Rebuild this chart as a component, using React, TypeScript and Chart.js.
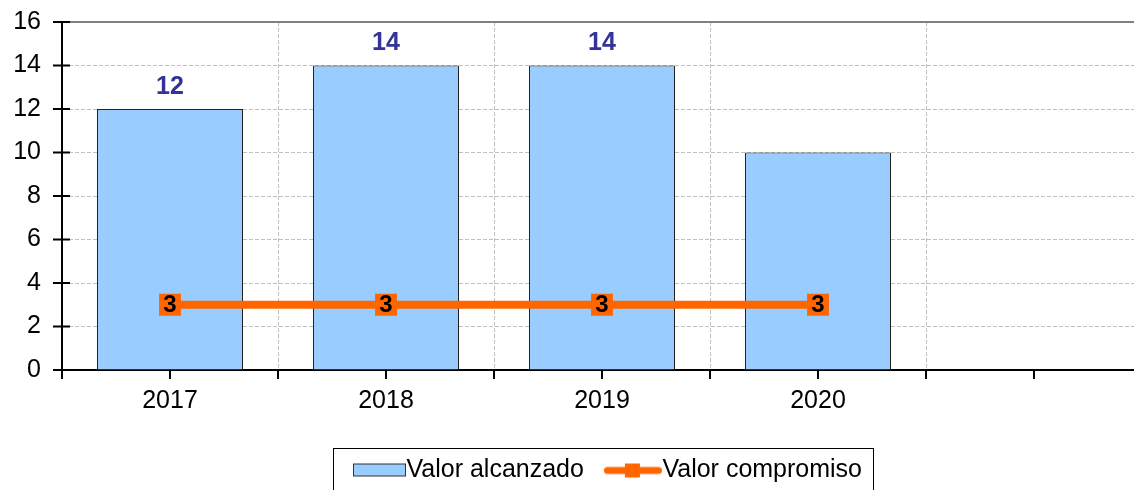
import React, { useEffect, useRef } from 'react';
import { Chart, registerables } from 'chart.js';

Chart.register(...registerables);

// ---- data ----
const categories = ['2017', '2018', '2019', '2020', ''];
const valorAlcanzado: (number | null)[] = [12, 14, 14, 10, null];
const valorCompromiso: (number | null)[] = [3, 3, 3, 3, null];
// value labels shown above the bars in the reference (2020 has none)
const alcanzadoLabels: (number | null)[] = [12, 14, 14, null, null];
const seriesNames = ['Valor alcanzado', 'Valor compromiso'];
const yMin = 0;
const yMax = 16;
const yStep = 2;

// ---- style ----
const FONT = "'Liberation Sans', Arial, sans-serif";
const BLUE = '#99CCFF';
const ORANGE = '#FF6600';
const LABEL_BLUE = '#333399';
const GRID = '#c0c0c0';
const LEGEND_START_X = 342;

function makeBarSwatch(): HTMLCanvasElement {
  const c = document.createElement('canvas');
  c.width = 76;
  c.height = 24;
  const g = c.getContext('2d')!;
  g.fillStyle = BLUE;
  g.fillRect(23.5, 5.5, 52, 12);
  g.strokeStyle = '#333';
  g.lineWidth = 1;
  g.strokeRect(23.5, 5.5, 52, 12);
  return c;
}

function makeLineSwatch(): HTMLCanvasElement {
  const c = document.createElement('canvas');
  c.width = 76;
  c.height = 24;
  const g = c.getContext('2d')!;
  g.strokeStyle = ORANGE;
  g.lineWidth = 7;
  g.lineCap = 'round';
  g.beginPath();
  g.moveTo(21.5, 12);
  g.lineTo(72.5, 12);
  g.stroke();
  g.fillStyle = ORANGE;
  g.fillRect(39, 5, 15, 14);
  return c;
}

const decorPlugin = {
  id: 'decor',
  afterLayout(chart: any) {
    const lg = chart.legend;
    if (!lg || !lg.lineWidths) return;
    const p = lg.options.labels.padding;
    const x1 = (lg.left + p + lg.right - lg.lineWidths[0]) / 2;
    const d = LEGEND_START_X - x1;
    lg.left += d;
    lg.right += d;
  },
  afterDatasetsDraw(chart: any) {
    const ctx = chart.ctx;
    ctx.save();
    ctx.textAlign = 'center';
    ctx.textBaseline = 'middle';
    const barMeta = chart.getDatasetMeta(0);
    ctx.font = `bold 25px ${FONT}`;
    ctx.fillStyle = LABEL_BLUE;
    barMeta.data.forEach((el: any, i: number) => {
      const v = alcanzadoLabels[i];
      if (v == null) return;
      ctx.fillText(String(v), el.x, el.y - 22);
    });
    const lineMeta = chart.getDatasetMeta(1);
    ctx.font = `bold 24px ${FONT}`;
    ctx.fillStyle = '#000';
    lineMeta.data.forEach((el: any, i: number) => {
      const v = valorCompromiso[i];
      if (v == null) return;
      ctx.fillText(String(v), el.x, el.y + 1);
    });
    ctx.restore();
  },
  afterDraw(chart: any) {
    const { ctx, chartArea: ca } = chart;
    const xs = chart.scales.x;
    const ys = chart.scales.y;
    ctx.save();
    ctx.strokeStyle = '#000';
    ctx.lineWidth = 2;
    ctx.beginPath();
    ys.ticks.forEach((t: any) => {
      const py = ys.getPixelForValue(t.value);
      ctx.moveTo(ca.left - 9, py);
      ctx.lineTo(ca.left + 8, py);
    });
    const n = categories.length;
    const half = (xs.getPixelForValue(1) - xs.getPixelForValue(0)) / 2;
    for (let i = 0; i < n; i++) {
      const c = xs.getPixelForValue(i);
      [c - half, c].forEach((px) => {
        ctx.moveTo(px, ca.bottom);
        ctx.lineTo(px, ca.bottom + 9);
      });
    }
    ctx.stroke();

    // legend frame
    const lg = chart.legend;
    if (lg && lg.legendHitBoxes && lg.legendHitBoxes.length) {
      const hb = lg.legendHitBoxes;
      const left = Math.round(hb[0].left) - 9;
      const last = hb[hb.length - 1];
      const right = Math.round(last.left + last.width) + 11;
      const top = Math.round(lg.top) + 4;
      ctx.lineWidth = 1;
      ctx.strokeStyle = '#000';
      ctx.strokeRect(left + 0.5, top + 0.5, right - left, 80);
    }
    ctx.restore();
  },
};

export default function App() {
  const ref = useRef<HTMLCanvasElement | null>(null);

  useEffect(() => {
    const canvas = ref.current;
    if (!canvas) return;
    const legendImages = [makeBarSwatch(), makeLineSwatch()];
    const chart = new Chart(canvas, {
      type: 'bar',
      data: {
        labels: categories,
        datasets: [
          {
            type: 'bar',
            label: seriesNames[0],
            data: valorAlcanzado,
            backgroundColor: BLUE,
            borderColor: '#222',
            borderWidth: 1,
            barPercentage: 146 / 216,
            categoryPercentage: 1,
            order: 2,
          },
          {
            type: 'line',
            label: seriesNames[1],
            data: valorCompromiso,
            borderColor: ORANGE,
            backgroundColor: ORANGE,
            borderWidth: 8,
            pointStyle: 'rect',
            pointRadius: 15.5,
            pointHoverRadius: 15.5,
            pointBackgroundColor: ORANGE,
            pointBorderWidth: 0,
            fill: false,
            order: 1,
          } as any,
        ],
      },
      options: {
        responsive: false,
        maintainAspectRatio: false,
        animation: false,
        layout: { autoPadding: false, padding: { top: 22, right: 77, bottom: 7, left: 0 } },
        scales: {
          x: {
            type: 'category',
            offset: true,
            grid: { display: true, offset: true, drawTicks: false, color: GRID, lineWidth: 1 },
            border: { display: true, color: '#000', width: 2, dash: [4, 2] },
            ticks: { color: '#000', font: { family: FONT, size: 25 }, padding: 16, maxRotation: 0 },
            afterFit: (s: any) => {
              s.height = 74;
            },
          },
          y: {
            min: yMin,
            max: yMax,
            ticks: { stepSize: yStep, color: '#000', font: { family: FONT, size: 25 }, padding: 0 },
            grid: {
              drawTicks: true,
              tickLength: 21,
              tickColor: 'rgba(0,0,0,0)',
              color: (c: any) => (c.tick && c.tick.value === yMax ? '#808080' : GRID),
              lineWidth: (c: any) => (c.tick && c.tick.value === yMax ? 2 : 1),
            },
            border: {
              display: true,
              color: '#000',
              width: 2,
              dash: (c: any) => (c.tick && c.tick.value === yMax ? [] : [4, 2]),
            },
            afterFit: (s: any) => {
              s.width = 62;
            },
          },
        },
        plugins: {
          tooltip: { enabled: false },
          legend: {
            display: true,
            position: 'bottom',
            labels: {
              color: '#000',
              font: { family: FONT, size: 25 },
              padding: 14,
              usePointStyle: true,
              pointStyleWidth: 52,
              generateLabels: (ch: any) => {
                const items = (Chart.defaults.plugins.legend.labels as any).generateLabels(ch);
                return items
                  .map((it: any) => ({
                    ...it,
                    pointStyle: legendImages[it.datasetIndex],
                    fontColor: '#000',
                  }))
                  .sort((a: any, b: any) => a.datasetIndex - b.datasetIndex);
              },
            },
          },
        },
      } as any,
      plugins: [decorPlugin],
    });
    return () => chart.destroy();
  }, []);

  return (
    <div
      style={{
        position: 'fixed',
        left: 0,
        top: 0,
        width: 1134,
        height: 490,
        overflow: 'hidden',
        background: '#fff',
      }}
    >
      <canvas ref={ref} width={1219} height={500} />
    </div>
  );
}
